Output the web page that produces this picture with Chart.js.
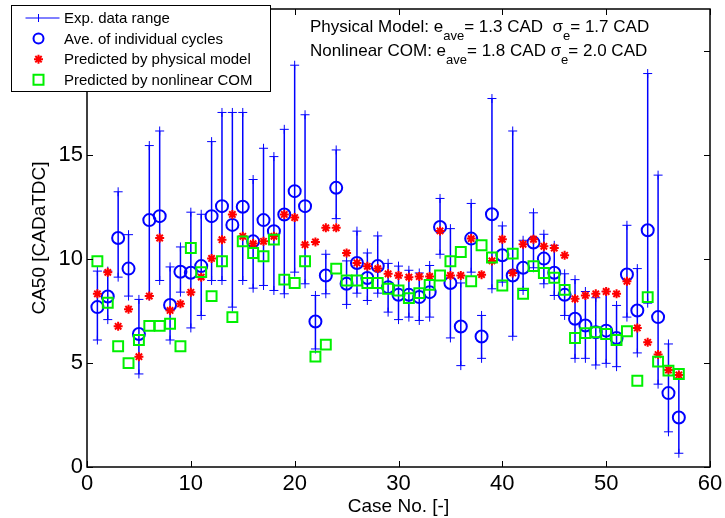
<!DOCTYPE html>
<html lang="en">
<head>
  <meta charset="UTF-8">
  <script src="https://cdn.jsdelivr.net/npm/chart.js"></script>
  <title>CA50 cases</title>
  <style>
    html, body{margin:0; padding:0; background:#fff;}
    #wrap{width:725px; height:518px;}
  </style>
</head>
<body>
  <div id="wrap">
    <canvas id="myChart" width="725" height="518"></canvas>
  </div>
  <script>
    // data
    const caseNo = [1,2,3,4,5,6,7,8,9,10,11,12,13,14,15,16,17,18,19,20,
      21,22,23,24,25,26,27,28,29,30,31,32,33,34,35,36,37,38,39,40,
      41,42,43,44,45,46,47,48,49,50,51,52,53,54,55,56,57];
    const aveCycles = [7.68,8.19,11.0,9.53,6.39,11.86,12.05,7.78,9.38,9.33,9.65,12.05,12.53,11.63,12.5,10.84,11.86,11.33,12.13,13.25,
      12.53,6.99,9.2,13.41,8.8,9.8,9.08,9.65,8.64,8.27,8.27,8.16,8.4,11.53,8.84,6.75,10.97,6.27,12.14,10.17,
      9.2,9.57,10.78,10.01,9.33,8.27,7.12,6.8,6.47,6.55,6.2,9.25,7.52,11.37,7.2,3.55,2.38];
    const rangeHi = [9.41,9.41,13.22,11.16,8.05,15.44,16.14,9.61,10.57,12.24,12.14,15.63,17.03,17.03,17.03,13.81,15.31,14.91,16.22,19.3,
      16.92,8.24,10.22,15.23,9.9,11.33,10.28,11.1,9.78,9.65,9.45,9.32,9.68,12.9,11.45,8.84,12.66,7.28,17.7,11.58,
      16.14,10.89,12.21,11.18,10.65,9.28,9.0,8.43,8.13,8.43,7.76,11.61,9.53,18.9,14.02,5.91,4.42];
    const rangeLo = [6.1,7.08,9.12,8.21,4.47,8.21,8.96,6.1,8.4,6.68,7.28,8.96,8.96,7.68,8.96,8.59,8.72,8.48,8.32,9.36,
      8.8,5.67,8.32,11.93,7.81,8.35,8.0,8.35,7.44,7.08,7.2,7.04,7.2,10.22,6.2,4.87,9.36,5.22,8.56,8.88,
      6.28,8.48,9.57,8.8,8.24,7.28,5.22,5.22,4.9,4.98,4.82,7.2,5.48,7.87,3.98,1.69,0.66];
    const physModel = [8.32,9.35,6.76,7.58,5.3,8.21,11.0,7.52,7.84,8.39,9.12,10.02,10.92,12.13,11.08,10.73,10.84,11.08,12.13,11.98,
      10.68,10.81,11.49,11.49,10.28,9.8,9.64,9.53,9.28,9.2,9.12,9.15,9.15,11.34,9.2,9.2,10.97,9.24,9.9,10.94,
      9.32,10.7,10.94,10.6,10.52,10.17,8.08,8.24,8.32,8.43,8.32,8.92,6.68,5.99,5.4,4.66,4.42];
    const nonlinCOM = [9.88,7.89,5.8,4.99,6.1,6.78,6.78,6.88,5.8,10.52,9.36,8.21,9.88,7.2,10.84,10.28,10.12,10.92,9.0,8.84,
      9.88,5.3,5.88,9.53,8.96,8.96,8.84,8.84,8.56,8.48,8.11,8.35,8.75,9.2,9.88,10.33,8.92,10.65,10.06,8.72,
      10.25,8.32,9.65,9.32,9.09,8.51,6.2,6.43,6.47,6.39,6.1,6.52,4.14,8.16,5.06,4.63,4.47];
    const xTicks = [0,10,20,30,40,50,60];
    const yTicks = [0,5,10,15,20];
    const legendLabels = ['Exp. data range','Ave. of individual cycles','Predicted by physical model','Predicted by nonlinear COM'];

    const FONT = "'Liberation Sans', Arial, sans-serif";
    const BLUE = '#0000ff', RED = '#ff0000', GREEN = '#00f000';

    // error bars as one line with gaps
    let rangePts = [];
    caseNo.forEach((c, i) => {
      rangePts.push({x:c, y:rangeHi[i]}, {x:c, y:rangeLo[i]}, {x:c, y:null});
    });
    const toPts = arr => caseNo.map((c, i) => ({x:c, y:arr[i]}));

    // small marker drawing for the legend
    function marker(ctx, kind, x, y){
      ctx.beginPath();
      if(kind == 'cross'){
        ctx.strokeStyle = BLUE; ctx.lineWidth = 1;
        ctx.moveTo(x-13, y); ctx.lineTo(x+21, y);
        ctx.moveTo(x, y-4); ctx.lineTo(x, y+4);
      } else if(kind == 'circle'){
        ctx.strokeStyle = BLUE; ctx.lineWidth = 2;
        ctx.arc(x, y, 5, 0, Math.PI*2);
      } else if(kind == 'star'){
        ctx.strokeStyle = RED; ctx.lineWidth = 2;
        for(let k = 0; k < 4; k++){
          const a = k*Math.PI/4;
          ctx.moveTo(x - 4.5*Math.cos(a), y - 4.5*Math.sin(a));
          ctx.lineTo(x + 4.5*Math.cos(a), y + 4.5*Math.sin(a));
        }
      } else {
        ctx.strokeStyle = GREEN; ctx.lineWidth = 2;
        ctx.rect(x-5, y-5, 10, 10);
      }
      ctx.stroke();
    }

    // draws a line of text made of pieces, subscripts are smaller and lower
    function richLine(ctx, parts, x, y){
      parts.forEach(p => {
        const size = p[1] ? 13 : 17;
        ctx.font = size + 'px ' + FONT;
        ctx.fillText(p[0], x, y + (p[1] ? 8 : 0));
        x += ctx.measureText(p[0]).width;
      });
    }

    const boxPlugin = {
      id: 'boxPlugin',
      afterDraw(chart){
        const ctx = chart.ctx;
        const a = chart.chartArea;
        const sx = chart.scales.x, sy = chart.scales.y;
        ctx.save();
        // axes box with inward ticks (all four sides)
        ctx.strokeStyle = '#000';
        ctx.lineWidth = 1.5;
        ctx.strokeRect(a.left, a.top, a.right - a.left, a.bottom - a.top);
        ctx.lineWidth = 1;
        ctx.beginPath();
        xTicks.forEach(v => {
          const px = Math.round(sx.getPixelForValue(v)) + 0.5;
          ctx.moveTo(px, a.bottom); ctx.lineTo(px, a.bottom - 6);
          ctx.moveTo(px, a.top); ctx.lineTo(px, a.top + 6);
        });
        yTicks.forEach(v => {
          const py = Math.round(sy.getPixelForValue(v)) + 0.5;
          ctx.moveTo(a.left, py); ctx.lineTo(a.left + 6, py);
          ctx.moveTo(a.right, py); ctx.lineTo(a.right - 6, py);
        });
        ctx.stroke();

        // error stats text
        ctx.fillStyle = '#000';
        ctx.textBaseline = 'alphabetic';
        ctx.textAlign = 'left';
        richLine(ctx, [['Physical Model: e'],['ave',1],['= 1.3 CAD  '],['\u03c3'],['e',1],['= 1.7 CAD']], 310, 32);
        richLine(ctx, [['Nonlinear COM: e'],['ave',1],['= 1.8 CAD '],['\u03c3'],['e',1],['= 2.0 CAD']], 310, 56);

        // legend box
        ctx.fillStyle = '#fff';
        ctx.fillRect(11, 5, 259, 86);
        ctx.strokeStyle = '#000';
        ctx.lineWidth = 1;
        ctx.strokeRect(11.5, 5.5, 259, 86);
        const kinds = ['cross','circle','star','square'];
        ctx.font = '15px ' + FONT;
        ctx.textBaseline = 'middle';
        legendLabels.forEach((t, i) => {
          const yy = 18 + i*20.6;
          marker(ctx, kinds[i], 38.5, yy);
          ctx.fillStyle = '#000';
          ctx.fillText(t, 64, yy + 1);
        });
        ctx.restore();
      }
    };

    const ctx = document.getElementById('myChart');
    new Chart(ctx, {
      type: 'scatter',
      data: {
        datasets: [
          {
            label: legendLabels[0],
            data: rangePts,
            showLine: true,
            spanGaps: false,
            borderColor: BLUE,
            borderWidth: 1.5,
            pointStyle: 'cross',
            pointRadius: 4.5,
            pointBorderWidth: 1,
            pointBorderColor: BLUE,
            order: 4
          },
          {
            label: legendLabels[1],
            data: toPts(aveCycles),
            pointStyle: 'circle',
            pointRadius: 6,
            pointBorderWidth: 2,
            pointBorderColor: BLUE,
            pointBackgroundColor: 'rgba(0,0,0,0)',
            order: 3
          },
          {
            label: legendLabels[2],
            data: toPts(physModel),
            pointStyle: 'star',
            pointRadius: 4.5,
            pointBorderWidth: 2,
            pointBorderColor: RED,
            pointBackgroundColor: 'rgba(0,0,0,0)',
            order: 2
          },
          {
            label: legendLabels[3],
            data: toPts(nonlinCOM),
            pointStyle: 'rect',
            pointRadius: 7,
            pointBorderWidth: 2,
            pointBorderColor: GREEN,
            pointBackgroundColor: 'rgba(0,0,0,0)',
            order: 1
          }
        ]
      },
      options: {
        responsive: false,
        animation: false,
        layout: {padding: {left: 0, top: 8, right: 15, bottom: 0}},
        plugins: {legend: {display: false}, tooltip: {enabled: false}},
        scales: {
          x: {
            type: 'linear',
            min: 0, max: 60,
            afterBuildTicks: s => { s.ticks = xTicks.map(v => ({value: v})); },
            afterFit: s => { s.height = 51; s.paddingLeft = 0; s.paddingRight = 0; },
            grid: {display: false, drawTicks: false},
            border: {display: false},
            ticks: {color: '#000', padding: 4, font: {family: FONT, size: 22}},
            title: {display: true, text: 'Case No. [-]', color: '#000', padding: {top: 0, bottom: 0}, font: {family: FONT, size: 19}}
          },
          y: {
            type: 'linear',
            min: 0, max: 22,
            afterBuildTicks: s => { s.ticks = yTicks.map(v => ({value: v})); },
            afterFit: s => { s.width = 87; s.paddingTop = 0; s.paddingBottom = 0; },
            grid: {display: false, drawTicks: false},
            border: {display: false},
            ticks: {color: '#000', padding: 4, font: {family: FONT, size: 22}},
            title: {display: true, text: 'CA50 [CADaTDC]', color: '#000', padding: {top: 28, bottom: 0}, font: {family: FONT, size: 19}}
          }
        }
      },
      plugins: [boxPlugin]
    });
  </script>
</body>
</html>
